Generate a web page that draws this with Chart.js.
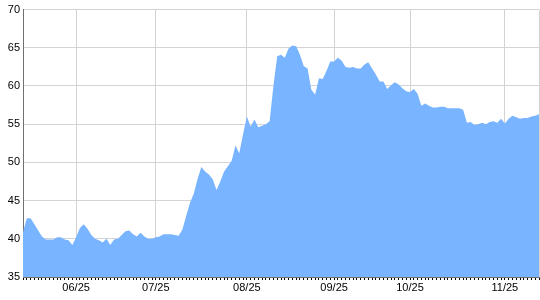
<!DOCTYPE html>
<html>
<head>
<meta charset="utf-8">
<script src="https://cdn.jsdelivr.net/npm/chart.js@4/dist/chart.umd.min.js"></script>
<style>
html,body{margin:0;padding:0;background:#fff;}
#wrap{width:540px;height:300px;position:relative;}
</style>
</head>
<body>
<div id="wrap"><canvas id="c" width="540" height="300"></canvas></div>
<script>
// Series values (one per trading day)
const values = [
40.9,42.7,42.7,41.9,41.1,40.3,39.9,39.9,39.9,40.2,
40.2,39.9,39.8,39.2,40.2,41.4,41.9,41.3,40.5,40.0,
39.8,39.5,40.0,39.2,39.9,40.0,40.5,41.0,41.1,40.6,
40.3,40.8,40.3,40.0,40.0,40.2,40.3,40.6,40.6,40.6,
40.5,40.4,41.2,43.0,44.7,45.9,47.8,49.4,48.8,48.4,
47.8,46.4,47.5,48.8,49.5,50.2,52.2,51.2,53.7,56.0,
54.7,55.6,54.6,54.8,55.0,55.4,60.0,63.9,64.1,63.7,
64.9,65.3,65.2,64.1,62.6,62.3,59.5,58.9,61.0,60.9,
62.0,63.2,63.2,63.7,63.3,62.5,62.4,62.5,62.3,62.3,
62.8,63.1,62.3,61.5,60.6,60.6,59.6,60.1,60.5,60.2,
59.7,59.3,59.2,59.6,59.0,57.4,57.7,57.4,57.2,57.2,
57.3,57.3,57.1,57.1,57.1,57.1,56.9,55.2,55.3,54.9,
55.0,55.2,55.0,55.3,55.4,55.2,55.7,55.1,55.7,56.1,
55.9,55.7,55.8,55.8,56.0,56.1,56.3
];
// Categories: trading-day index
const categories = values.map((_, i) => i);
// Month tick labels and the trading-day index where each month starts
const monthLabels = ['06/25','07/25','08/25','09/25','10/25','11/25'];
const monthIndex = [14, 35, 59, 82, 102, 127];
// Y axis range / ticks
const yMin = 35, yMax = 70, yStep = 5;

const lastIdx = values.length - 1;
const gridGray = '#d3d3d3';

new Chart(document.getElementById('c'), {
  type: 'line',
  data: {
    labels: categories,
    datasets: [{
      data: values,
      fill: 'start',
      backgroundColor: '#78b4ff',
      borderWidth: 0,
      borderColor: 'rgba(0,0,0,0)',
      pointRadius: 0,
      tension: 0
    }]
  },
  options: {
    responsive: false,
    animation: false,
    devicePixelRatio: 1,
    layout: { padding: { top: 8, right: 1, left: 0, bottom: 0 } },
    plugins: { legend: { display: false }, tooltip: { enabled: false } },
    scales: {
      x: {
        type: 'category',
        offset: false,
        afterFit: s => { s.height = 23; },
        border: { display: true, color: '#707070', width: 1 },
        grid: {
          display: true,
          drawOnChartArea: true,
          drawTicks: true,
          tickLength: 3,
          color: ctx => (monthIndex.includes(ctx.index) || ctx.index === lastIdx) ? gridGray : 'rgba(0,0,0,0)',
          tickColor: '#000',
          tickWidth: 1,
          lineWidth: 1
        },
        ticks: {
          autoSkip: false,
          maxRotation: 0,
          minRotation: 0,
          padding: 1,
          color: '#000',
          font: { family: 'Arial, "Liberation Sans"', size: 11 },
          callback: (v, i) => {
            const k = monthIndex.indexOf(i);
            return k >= 0 ? monthLabels[k] : '';
          }
        }
      },
      y: {
        min: yMin,
        max: yMax,
        afterFit: s => { s.width = 23; },
        border: { display: true, color: '#707070', width: 1 },
        grid: { color: gridGray, drawTicks: false, lineWidth: 1 },
        ticks: {
          stepSize: yStep,
          padding: 3,
          color: '#000',
          font: { family: 'Arial, "Liberation Sans"', size: 11 }
        }
      }
    }
  }
});
</script>
</body>
</html>
